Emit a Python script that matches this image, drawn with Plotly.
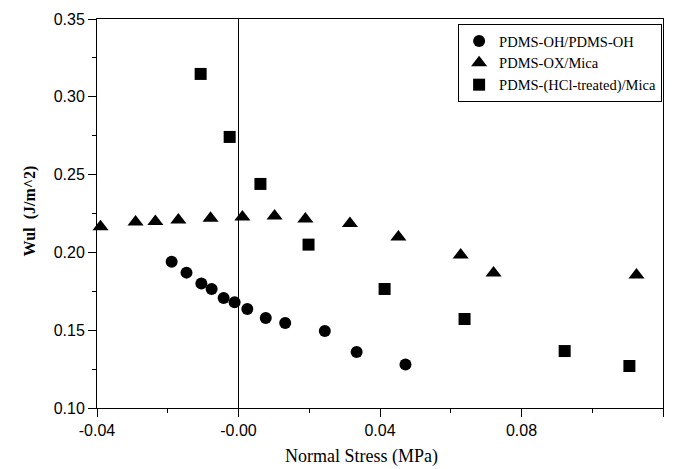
import plotly.graph_objects as go

# PDMS-OH/PDMS-OH (circles)
oh_x = [-0.0189, -0.0147, -0.0105, -0.0076, -0.0042, -0.0011, 0.0025, 0.0077, 0.0132, 0.0244, 0.0334, 0.0472]
oh_y = [0.194, 0.187, 0.180, 0.1765, 0.1707, 0.168, 0.1636, 0.1578, 0.1546, 0.1495, 0.136, 0.128]

# PDMS-OX/Mica (triangles)
ox_x = [-0.0390, -0.0291, -0.0235, -0.0170, -0.0079, 0.0011, 0.0102, 0.0189, 0.0315, 0.0452, 0.0628, 0.0721, 0.1125]
ox_y = [0.2165, 0.2195, 0.2198, 0.2208, 0.2220, 0.2227, 0.2234, 0.2215, 0.2185, 0.2099, 0.1983, 0.1868, 0.1855]

# PDMS-(HCl-treated)/Mica (squares)
hcl_x = [-0.0107, -0.0025, 0.0062, 0.0198, 0.0413, 0.0639, 0.0922, 0.1105]
hcl_y = [0.3147, 0.2742, 0.2440, 0.2050, 0.1765, 0.1572, 0.1366, 0.1270]

x_tickvals = [-0.04, 0.0, 0.04, 0.08, 0.12]
x_ticktext = ["-0.04", "-0.00", "0.04", "0.08", "0.12"]
y_tickvals = [0.10, 0.15, 0.20, 0.25, 0.30, 0.35]

fig = go.Figure()
fig.add_trace(go.Scatter(x=oh_x, y=oh_y, mode="markers", name="PDMS-OH/PDMS-OH",
                         marker=dict(symbol="circle", size=12, color="black"), cliponaxis=False))
fig.add_trace(go.Scatter(x=ox_x, y=ox_y, mode="markers", name="PDMS-OX/Mica",
                         marker=dict(symbol="triangle-up", size=14, color="black"), cliponaxis=False))
fig.add_trace(go.Scatter(x=hcl_x, y=hcl_y, mode="markers", name="PDMS-(HCl-treated)/Mica",
                         marker=dict(symbol="square", size=12, color="black"), cliponaxis=False))

axis_common = dict(showline=True, linecolor="black", linewidth=1, mirror=True,
                   ticks="outside", ticklen=8, tickwidth=1, tickcolor="black",
                   showgrid=False,
                   tickfont=dict(family="Liberation Sans", size=16, color="black"))

fig.update_xaxes(range=[-0.04, 0.12], tickvals=x_tickvals, ticktext=x_ticktext,
                 zeroline=True, zerolinecolor="black", zerolinewidth=1,
                 minor=dict(dtick=0.02, tick0=0, ticks="outside", ticklen=4, tickcolor="black"),
                 **axis_common)
fig.update_yaxes(range=[0.10, 0.35], tickvals=y_tickvals, tickformat=".2f", zeroline=False,
                 minor=dict(dtick=0.025, tick0=0.1, ticks="outside", ticklen=4, tickcolor="black"),
                 **axis_common)

fig.add_annotation(text="Normal\u00a0Stress\u00a0(MPa)", xref="paper", yref="paper",
                   x=0.468, y=-0.124, xanchor="center", yanchor="middle", showarrow=False,
                   font=dict(family="Liberation Serif", size=18, color="black"))
fig.add_annotation(text="<b>Wul\u00a0 (J/m^2)</b>", xref="paper", yref="paper",
                   x=-0.118, y=0.506, xanchor="center", yanchor="middle", showarrow=False,
                   textangle=-90, font=dict(family="Liberation Serif", size=16, color="black"))

fig.update_layout(
    width=678, height=469,
    margin=dict(l=97, r=15, t=19, b=61),
    paper_bgcolor="white", plot_bgcolor="white",
    showlegend=True,
    legend=dict(x=0.638, y=0.987, xanchor="left", yanchor="top",
                bordercolor="black", borderwidth=1, bgcolor="white",
                font=dict(family="Liberation Serif", size=14.5, color="black"),
                tracegroupgap=0),
)

fig.write_html("out.html")
